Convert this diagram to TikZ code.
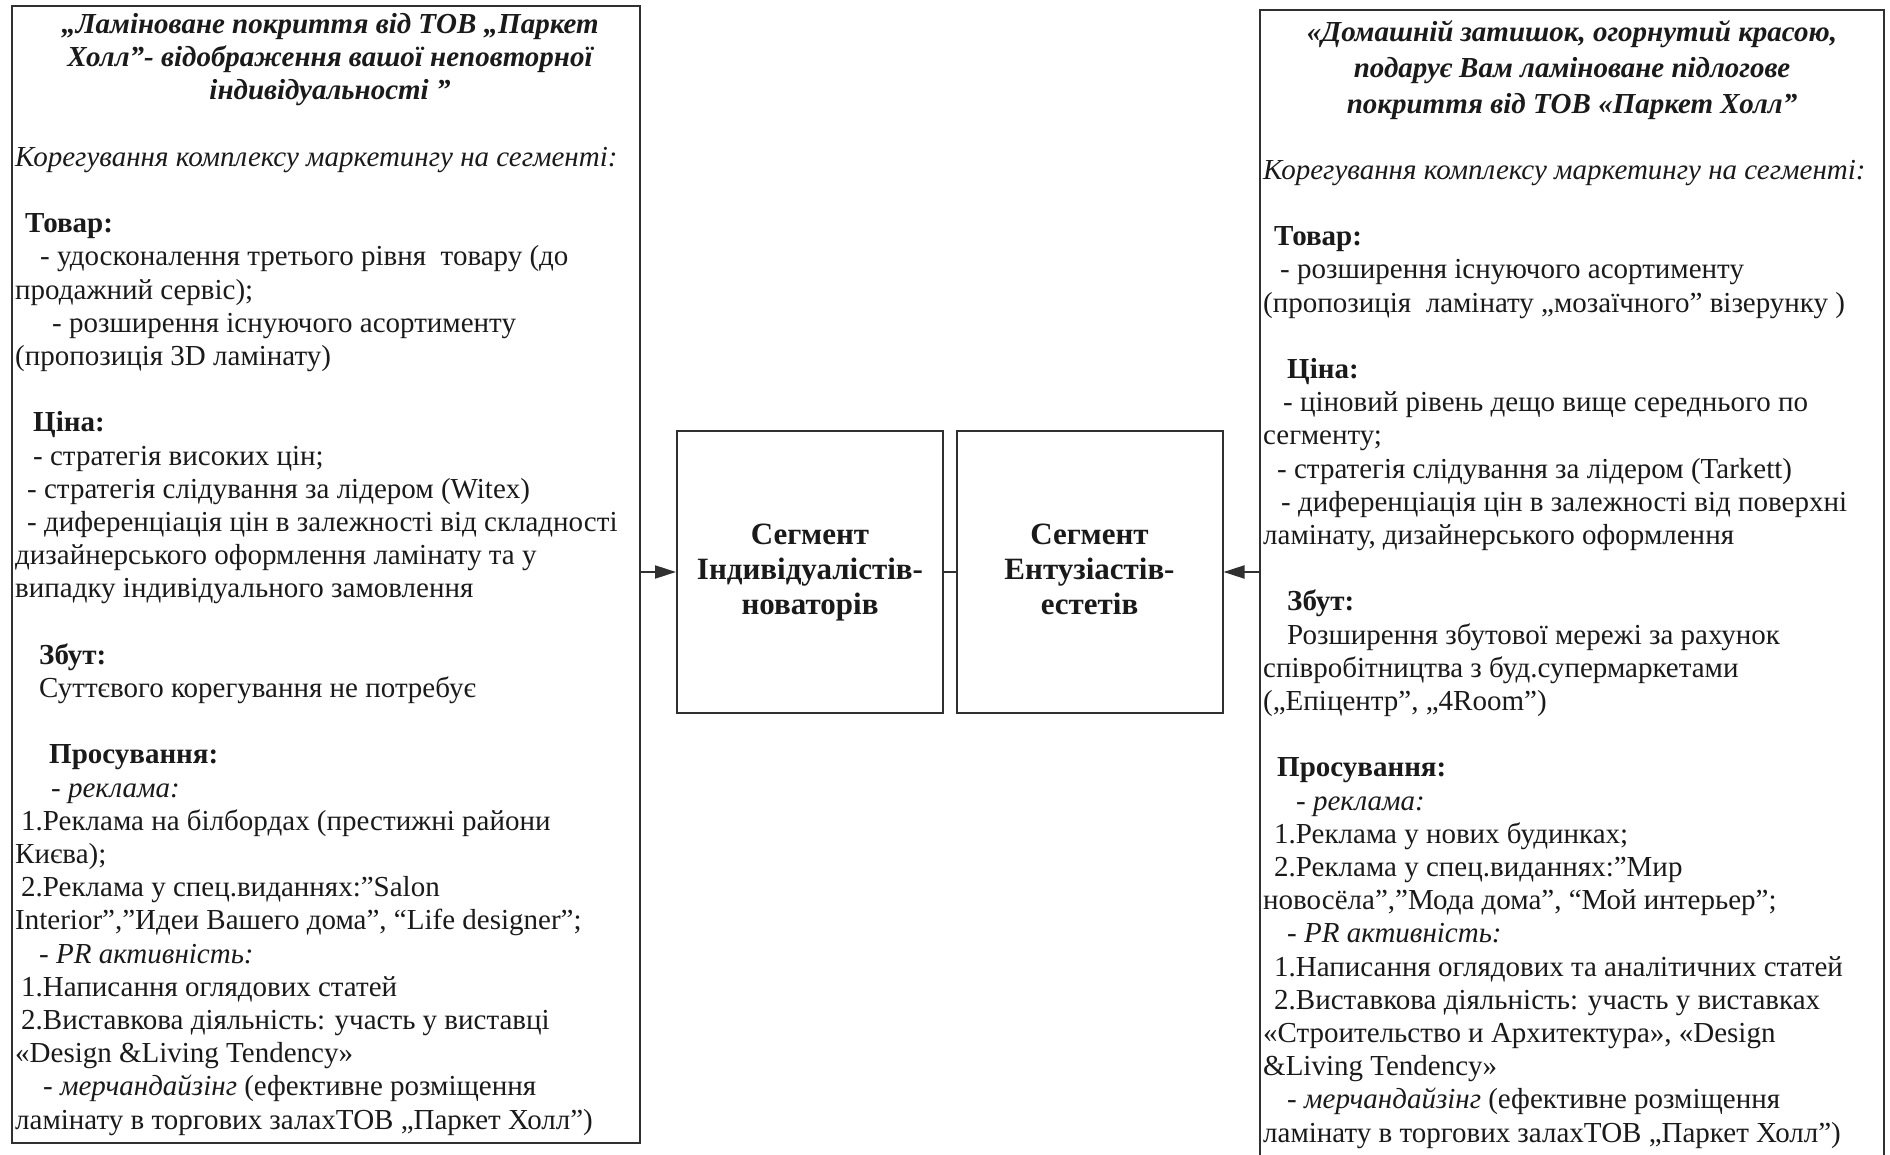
\documentclass[tikz,border=0pt]{standalone}
\usepackage{fontspec}
\setmainfont{Liberation Serif}
\usetikzlibrary{arrows.meta}
\definecolor{ink}{HTML}{1A1A1A}
\definecolor{frame}{HTML}{303030}
\newcommand\ind[1]{\hspace*{#1pt}}
\begin{document}
\begin{tikzpicture}[x=1pt,y=-1pt,
  bigbox/.style={draw=frame, line width=2pt, inner sep=0pt},
  segbox/.style={draw=frame, line width=2pt, minimum width=266pt, minimum height=282pt, inner sep=0pt,
    align=center, font=\fontsize{31}{36}\selectfont\bfseries, text=ink},
  bodytext/.style={anchor=north west, align=left, inner sep=0pt, text=ink,
    font=\fontsize{29}{33.2}\selectfont},
  titletext/.style={anchor=north, align=center, inner sep=0pt, text=ink,
    font=\fontsize{29}{33.2}\selectfont\bfseries\itshape},
  link/.style={draw=frame, line width=2pt},
  arr/.style={link, -{Triangle[length=21pt, width=13pt]}}
]
\useasboundingbox (0,0) rectangle (1890,1155);
\begin{scope}
\clip (0,0) rectangle (1890,1155);
% boxes
\node[bigbox, minimum width=628pt, minimum height=1137pt] (lbox) at (326,574.5) {};
\node[bigbox, minimum width=624pt, minimum height=1170pt] (rbox) at (1572,595) {};
\end{scope}
\node[segbox] (b1) at (810,572) {\raisebox{-3pt}{\begin{tabular}{@{}c@{}}Сегмент\\[-1pt]Індивідуалістів-\\[-1pt]новаторів\end{tabular}}};
\node[segbox] (b2) at (1089.5,572) {\raisebox{-3pt}{\begin{tabular}{@{}c@{}}Сегмент\\[-1pt]Ентузіастів-\\[-1pt]естетів\end{tabular}}};

% left texts
\node[titletext] (ltitle) at (330,9.8) {\strut„Ламіноване покриття від ТОВ „Паркет\\Холл”- відображення вашої неповторної\\індивідуальності ”};
\node[bodytext] (lbody) at (15,142.8) {\strut\textit{Корегування комплексу маркетингу на сегменті:}\\[33.2pt]
\ind{10}\textbf{Товар:}\\
\ind{25}- удосконалення третього рівня\ \ товару (до\\
продажний сервіс);\\
\ind{37}- розширення існуючого асортименту\\
(пропозиція 3D ламінату)\\[33.2pt]
\ind{18}\textbf{Ціна:}\\
\ind{18}- стратегія високих цін;\\
\ind{12}- стратегія слідування за лідером (Witex)\\
\ind{12}- диференціація цін в залежності від складності\\
дизайнерського оформлення ламінату та у\\
випадку індивідуального замовлення\\[33.2pt]
\ind{24}\textbf{Збут:}\\
\ind{24}Суттєвого корегування не потребує\\[33.2pt]
\ind{34}\textbf{Просування:}\\
\ind{36}\textit{- реклама:}\\
\ind{6}1.Реклама на білбордах (престижні райони\\
Києва);\\
\ind{6}2.Реклама у спец.виданнях:”Salon\\
Interior”,”Идеи Вашего дома”, “Life designer”;\\
\ind{24}\textit{- PR активність:}\\
\ind{6}1.Написання оглядових статей\\
\ind{6}2.Виставкова діяльність: участь у виставці\\
«Design \&Living Tendency»\\
\ind{28}\textit{- мерчандайзінг} (ефективне розміщення\\
ламінату в торгових залахТОВ „Паркет Холл”)};

% right texts
\node[titletext, font=\fontsize{29}{36}\selectfont\bfseries\itshape] (rtitle) at (1572,15.8) {\strut«Домашній затишок, огорнутий красою,\\подарує Вам ламіноване підлогове\\покриття від ТОВ «Паркет Холл”};
\node[bodytext] (rbody) at (1263,155.8) {\strut\textit{Корегування комплексу маркетингу на сегменті:}\\[33.2pt]
\ind{11}\textbf{Товар:}\\
\ind{17}- розширення існуючого асортименту\\
(пропозиція\ \ ламінату „мозаїчного” візерунку )\\[33.2pt]
\ind{24}\textbf{Ціна:}\\
\ind{20}- ціновий рівень дещо вище середнього по\\
сегменту;\\
\ind{14}- стратегія слідування за лідером (Tarkett)\\
\ind{18}- диференціація цін в залежності від поверхні\\
ламінату, дизайнерського оформлення\\[33.2pt]
\ind{24}\textbf{Збут:}\\
\ind{24}Розширення збутової мережі за рахунок\\
співробітництва з буд.супермаркетами\\
(„Епіцентр”, „4Room”)\\[33.2pt]
\ind{14}\textbf{Просування:}\\
\ind{33}\textit{- реклама:}\\
\ind{11}1.Реклама у нових будинках;\\
\ind{11}2.Реклама у спец.виданнях:”Мир\\
новосёла”,”Мода дома”, “Мой интерьер”;\\
\ind{24}\textit{- PR активність:}\\
\ind{11}1.Написання оглядових та аналітичних статей\\
\ind{11}2.Виставкова діяльність: участь у виставках\\
«Строительство и Архитектура», «Design\\
\&Living Tendency»\\
\ind{24}\textit{- мерчандайзінг} (ефективне розміщення\\
ламінату в торгових залахТОВ „Паркет Холл”)};

% connectors
\draw[arr] (lbox.east |- b1.west) -- (b1.west);
\draw[link] (b1.east) -- (b2.west);
\draw[arr] (rbox.west |- b2.east) -- (b2.east);
\end{tikzpicture}
\end{document}
